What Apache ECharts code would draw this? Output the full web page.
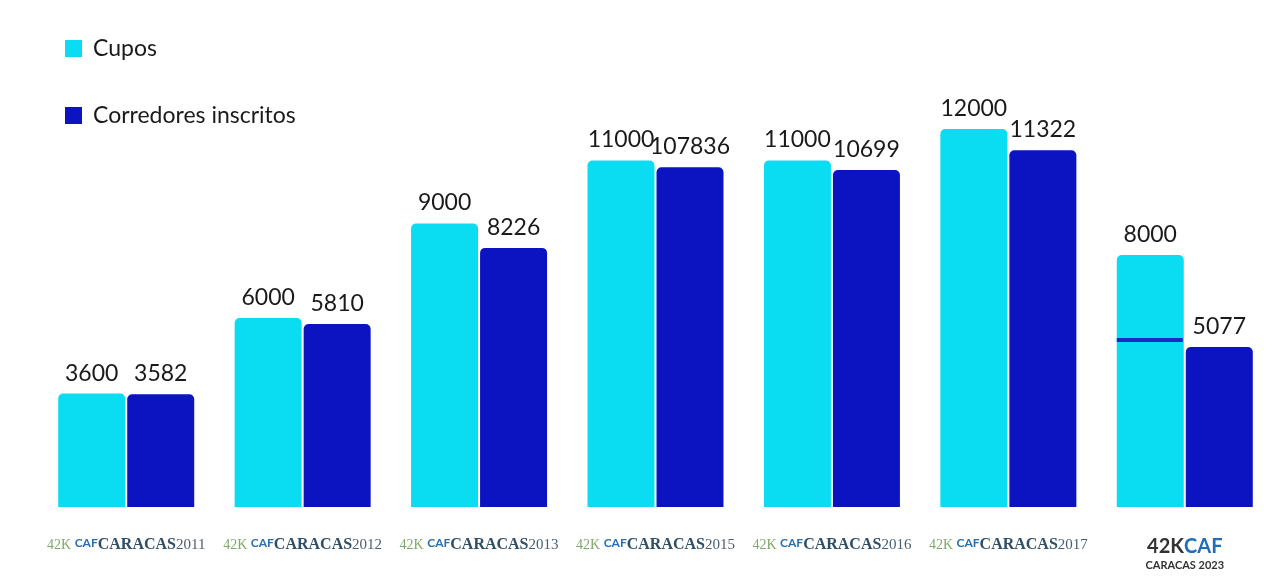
<!DOCTYPE html>
<html><head><meta charset="utf-8">
<script src="https://cdn.jsdelivr.net/npm/echarts@6/dist/echarts.min.js"></script>
<style>html,body{margin:0;padding:0;background:#fff}#c{width:1280px;height:583px}</style>
</head><body><div id="c"></div>
<script>
var years = ['2011','2012','2013','2015','2016','2017','2023'];
var cupos = [3600, 6000, 9000, 11000, 11000, 12000, 8000];
var inscritos = [3582, 5810, 8226, 10784, 10699, 11322, 5077];
var inscritosLabels = ['3582','5810','8226','107836','10699','11322','5077'];
var markerValues = [null, null, null, null, null, null, 5300];

var chart = echarts.init(document.getElementById('c'));
var font = 'Lato, "Noto Sans", sans-serif';
chart.setOption({
  animation: false,
  textStyle: {fontFamily: font},
  legend: {
    orient: 'vertical', left: 60, top: 32, itemGap: 44,
    itemWidth: 17, itemHeight: 17, icon: 'rect',
    textStyle: {fontSize: 23, color: '#1a1a1a', fontFamily: font, padding: [0,0,0,6]},
    data: ['Cupos', 'Corredores inscritos']
  },
  grid: {left: 38, right: 7, top: 66, bottom: 76},
  xAxis: {
    type: 'category', data: years,
    axisLine: {show: false}, axisTick: {show: false},
    axisLabel: {
      margin: 30, interval: 0, hideOverlap: false,
      formatter: function (v) {
        if (v === '2023') return '{k2|42K}{c2|CAF}\n{s2|CARACAS 2023}';
        return '{k|42K }{c|CAF}{cr|CARACAS}{y|' + v + '}';
      },
      rich: {
        k: {color: '#7fa86a', fontSize: 14, fontFamily: 'Liberation Serif'},
        c: {color: '#2a6fb0', fontSize: 12, fontWeight: 'bold', verticalAlign: 'top'},
        cr: {color: '#2f4f66', fontSize: 16, fontWeight: 'bold', fontFamily: 'Liberation Serif'},
        y: {color: '#4a6072', fontSize: 15, fontFamily: 'Liberation Serif'},
        k2: {color: '#333', fontSize: 20, fontWeight: 'bold'},
        c2: {color: '#1f6fb8', fontSize: 20, fontWeight: 'bold'},
        s2: {color: '#333', fontSize: 11, fontWeight: 'bold', lineHeight: 16}
      }
    }
  },
  yAxis: {type: 'value', min: 0, max: 14000, show: false, splitLine: {show: false}},
  series: [
    {
      name: 'Cupos', type: 'bar', data: cupos, barWidth: 67, barGap: '3%',
      itemStyle: {color: '#0adcf2', borderRadius: [5,5,0,0]},
      label: {show: true, position: 'top', distance: 9, fontSize: 23, color: '#1a1a1a', fontFamily: font}
    },
    {
      name: 'Corredores inscritos', type: 'bar', data: inscritos, barWidth: 67,
      itemStyle: {color: '#0c14c2', borderRadius: [5,5,0,0]},
      label: {show: true, position: 'top', distance: 9, fontSize: 23, color: '#1a1a1a', fontFamily: font,
        formatter: function (p) { return inscritosLabels[p.dataIndex]; }}
    },
    {
      name: 'marker', type: 'scatter', data: markerValues, symbol: 'rect',
      symbolSize: [66, 4], symbolOffset: [-35, 0], silent: true, z: 5,
      itemStyle: {color: '#1a2bc8', opacity: 1}
    }
  ],
  color: ['#0adcf2', '#2412c0']
});
</script></body></html>
